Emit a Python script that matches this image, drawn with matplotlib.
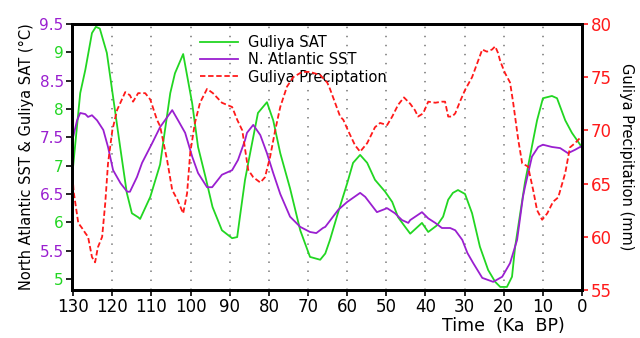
import matplotlib
matplotlib.use("Agg")
from matplotlib import pyplot as plt

# Guliya SAT (left axis, deg C)
sat_age = [130.0, 128.2, 126.9, 125.2, 124.2, 123.2, 121.4, 119.8, 118.0, 116.3, 115.0,
           113.4, 112.9, 110.3, 107.8, 105.2, 104.0, 101.9, 99.6, 98.1, 96.2, 94.4, 92.0,
           89.4, 88.1, 87.4, 86.1, 84.8, 82.8, 80.5, 78.9, 77.1, 74.6, 72.0, 69.5, 66.9,
           65.6, 64.4, 62.3, 60.0, 58.5, 56.7, 54.9, 52.9, 50.3, 48.5, 47.0, 45.2,
           43.9, 40.9, 39.3, 37.0, 35.5, 34.2, 33.0, 31.7, 29.9, 28.1, 26.1, 24.0, 22.2,
           20.9, 19.2, 17.9, 17.1, 15.8, 14.6, 12.5, 11.5, 10.0, 7.7, 6.4, 4.3, 2.6, 0.5, 0.0]
sat = [7.0, 8.28, 8.69, 9.34, 9.45, 9.42, 8.99, 8.21, 7.33, 6.52, 6.16,
       6.09, 6.06, 6.45, 7.02, 8.28, 8.63, 8.97, 8.1, 7.33, 6.8, 6.27, 5.86,
       5.72, 5.74, 6.1, 6.75, 7.22, 7.93, 8.12, 7.8, 7.22, 6.6, 5.86, 5.39, 5.34,
       5.45, 5.69, 6.18, 6.69, 7.05, 7.19, 7.05, 6.75, 6.54, 6.36, 6.09, 5.92,
       5.8, 5.99, 5.83, 5.95, 6.1, 6.4, 6.52, 6.57, 6.5, 6.16, 5.57, 5.16, 4.95,
       4.86, 4.86, 5.04, 5.57, 6.16, 6.7, 7.45, 7.8, 8.19, 8.23, 8.19, 7.8, 7.58, 7.37, 7.3]

# North Atlantic SST (left axis, deg C)
sst_age = [130.0, 129.0, 128.2, 126.9, 126.2, 125.2, 123.9, 122.3, 121.1, 119.8, 117.9,
           116.2, 115.5, 113.7, 112.4, 109.8, 107.8, 104.7, 103.2, 101.4, 99.6, 98.1,
           95.8, 94.5, 92.0, 89.4, 87.9, 86.1, 85.6, 84.0, 82.2, 80.5, 78.9, 77.1, 74.6,
           72.0, 69.5, 67.9, 66.2, 65.6, 62.3, 60.0, 56.7, 55.4, 52.4, 49.8, 47.8, 46.0,
           44.4, 43.9, 40.9, 39.3, 37.5, 35.8, 33.7, 32.4, 30.6, 29.3, 27.8, 25.5, 22.7,
           20.4, 18.4, 16.6, 15.1, 14.6, 12.8, 11.2, 10.0, 7.7, 5.6, 3.6, 1.8, 0.5, 0.0]
sst = [7.51, 7.8, 7.93, 7.91, 7.86, 7.89, 7.8, 7.63, 7.33, 6.92, 6.69,
       6.54, 6.54, 6.8, 7.05, 7.4, 7.68, 7.98, 7.8, 7.58, 7.16, 6.87,
       6.62, 6.62, 6.84, 6.92, 7.1, 7.45, 7.58, 7.72, 7.54, 7.22, 6.87, 6.5, 6.1,
       5.92, 5.83, 5.81, 5.9, 5.92, 6.22, 6.36, 6.52, 6.45, 6.18, 6.25, 6.16, 6.04,
       5.99, 6.04, 6.18, 6.07, 5.99, 5.9, 5.9, 5.86, 5.69, 5.46, 5.28, 5.02, 4.95,
       5.04, 5.28, 5.69, 6.45, 6.62, 7.16, 7.33, 7.37, 7.33, 7.31, 7.22, 7.28, 7.33, 7.35]

# Guliya precipitation (right axis, mm)
pre_age = [130.0, 129.9, 128.7, 127.7, 126.9, 126.2, 125.2, 124.4, 123.7, 122.6, 121.8,
           121.1, 120.0, 118.8, 116.7, 115.5, 114.7, 113.4, 111.6, 110.3, 108.6, 107.8,
           106.0, 104.7, 103.4, 101.9, 100.9, 100.1, 98.9, 97.6, 95.8, 94.3, 92.0, 89.4,
           88.1, 86.8, 85.3, 84.0, 82.2, 81.0, 79.7, 78.4, 77.1, 75.4, 73.8, 71.5, 69.5,
           66.9, 65.1, 64.4, 63.1, 61.8, 61.0, 59.8, 58.0, 56.7, 54.9, 52.9, 51.6, 49.8,
           48.5, 47.0, 45.5, 43.9, 42.7, 41.9, 40.6, 39.3, 37.5, 35.8, 35.0, 34.2, 33.2,
           32.4, 31.2, 29.9, 28.1, 26.8, 25.5, 24.3, 23.0, 22.2, 21.5, 20.9, 19.7, 18.4,
           17.6, 16.3, 15.3, 13.8, 12.5, 11.5, 10.2, 8.9, 7.4, 6.1, 4.3, 3.1, 1.8, 0.5, 0.0]
pre = [64.9, 64.3, 61.3, 60.8, 60.35, 60.0, 58.1, 57.6, 59.0, 60.0, 63.2,
       66.9, 70.0, 71.9, 73.6, 73.3, 72.7, 73.5, 73.5, 72.9, 71.0, 70.4,
       67.2, 64.4, 63.5, 62.2, 64.1, 67.9, 70.7, 72.6, 73.9, 73.5, 72.6, 72.2,
       71.0, 70.0, 66.3, 65.6, 65.1, 65.6, 67.5, 70.0, 72.2, 74.1, 75.0, 75.5, 75.5,
       75.2, 74.5, 73.9, 72.6, 71.3, 71.0, 70.0, 68.6, 68.0, 68.8, 70.3, 70.7, 70.5,
       71.3, 72.4, 73.1, 72.5, 71.9, 71.3, 71.6, 72.7, 72.6, 72.7, 72.7, 71.3, 71.3,
       71.6, 72.7, 73.8, 75.0, 76.3, 77.6, 77.4, 77.6, 77.9, 77.3, 76.5, 75.4, 74.5,
       72.6, 69.1, 66.9, 66.6, 64.4, 62.5, 61.6, 62.2, 63.3, 63.7, 66.0, 68.4, 68.8, 69.3, 69.1]

left_ticks = [5, 5.5, 6, 6.5, 7, 7.5, 8, 8.5, 9, 9.5]
right_ticks = [55, 60, 65, 70, 75, 80]
x_ticks = [130, 120, 110, 100, 90, 80, 70, 60, 50, 40, 30, 20, 10, 0]

green = "#22d622"
purple = "#9a1fd0"
red = "#ff1a1a"

fig = plt.figure(figsize=(6.4, 3.38), dpi=100)
ax = fig.add_axes([0.1125, 0.142, 0.797, 0.787])
ax2 = ax.twinx()

for x in x_ticks[:-1]:
    ax.axvline(x, color="#888888", lw=1.3, ls=(0, (0.8, 4.2)), zorder=0)

l1, = ax.plot(sat_age, sat, color=green, lw=1.3, label="Guliya SAT")
l2, = ax.plot(sst_age, sst, color=purple, lw=1.3, label="N. Atlantic SST")
l3, = ax2.plot(pre_age, pre, color=red, lw=1.3, ls=(0, (3, 1.5)), label="Guliya Preciptation")

ax.set_xlim(130.3, 0)
ax.set_ylim(4.806, 9.5)
ax2.set_ylim(55, 80)
ax.set_xticks(x_ticks)
ax.set_yticks(left_ticks)
ax.set_yticklabels([("%g" % v) for v in left_ticks])
ax2.set_yticks(right_ticks)

ax.tick_params(axis="x", labelsize=12, length=4, width=1.2, pad=2)
ax.tick_params(axis="y", labelsize=11, length=4, width=1.2, pad=2)
ax2.tick_params(axis="y", labelsize=12, length=4, width=1.2, colors=red, pad=2)

for i, (t, lab) in enumerate(zip(ax.yaxis.get_major_ticks(), ax.get_yticklabels())):
    c = green if i % 2 == 0 else purple
    t.tick1line.set_color(c)
    lab.set_color(c)

for a in (ax, ax2):
    for s in a.spines.values():
        s.set_linewidth(2)
        s.set_color("black")

ax.set_ylabel("North Atlantic SST & Guliya SAT (°C)", fontsize=10.5, labelpad=4)
ax2.set_ylabel("Guliya Precipitation (mm)", fontsize=10.5, rotation=270, labelpad=16)
ax.set_xlabel("Time  (Ka  BP)", fontsize=12.5)
ax.xaxis.set_label_coords(0.845, -0.1)

leg = ax.legend(handles=[l1, l2, l3], loc="upper left", bbox_to_anchor=(0.24, 0.98),
                frameon=False, fontsize=10.5, handlelength=2.6, handletextpad=0.7,
                labelspacing=0.15, borderaxespad=0)

fig.savefig("out.png", dpi=100)
